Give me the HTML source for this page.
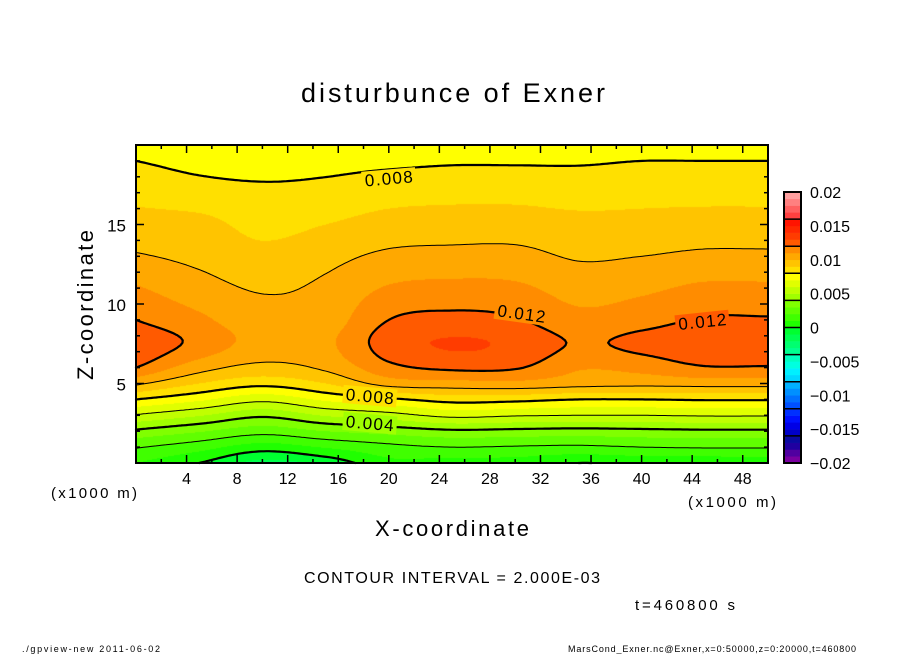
<!DOCTYPE html>
<html><head><meta charset="utf-8"><style>
html,body{margin:0;padding:0;background:#fff}
#wrap{position:relative;width:904px;height:654px;overflow:hidden}
canvas{position:absolute;left:136px;top:145px}
svg{position:absolute;left:0;top:0}
text{font-family:"Liberation Sans",sans-serif;fill:#000}
</style></head><body>
<div id="wrap">
<canvas id="cv" width="632" height="318"></canvas>
<svg id="sv" width="904" height="654">
<text x="453" y="102" font-size="27" text-anchor="middle" textLength="304">disturbunce of Exner</text>
<text transform="translate(93,305) rotate(-90)" font-size="22" text-anchor="middle" textLength="150">Z-coordinate</text>
<text x="452" y="536" font-size="22" text-anchor="middle" textLength="154">X-coordinate</text>
<text x="94" y="498" font-size="15" text-anchor="middle" textLength="86">(x1000 m)</text>
<text x="732" y="507" font-size="15" text-anchor="middle" textLength="88">(x1000 m)</text>
<text x="452" y="583" font-size="16" text-anchor="middle" textLength="296">CONTOUR INTERVAL = 2.000E-03</text>
<text x="685" y="610" font-size="15" text-anchor="middle" textLength="100">t=460800 s</text>
<text x="22" y="652" font-size="9" textLength="138">./gpview-new  2011-06-02</text>
<text x="568" y="652" font-size="9" textLength="288">MarsCond_Exner.nc@Exner,x=0:50000,z=0:20000,t=460800</text>
<g id="contours"></g>
<g id="labels"></g>
<rect x="136" y="145" width="632" height="318" fill="none" stroke="#000" stroke-width="2"/>
<g id="ticks"></g>
<g id="cbar"></g>
</svg>
</div>
<script>
// grid coordinates
const xs = [0,5,10,15,20,25,30,35,40,45,50];
const zs = [0,1,2,3,4,5,6,7.5,9,11,13,15,17,19,20];
// field values per x column (bottom to top)
const col0  = [.0010,.0021,.0038,.0059,.0080,.0102,.0120,.0128,.0120,.0111,.0101,.0094,.0087,.0080,.0076];
const col5  = [.0000,.0014,.0031,.0051,.0072,.0090,.0104,.0117,.0112,.0104,.00975,.0093,.0084,.0077,.0074];
const col10 = [-.0014,.0005,.0024,.0042,.0063,.0083,.0097,.0106,.0104,.0099,.0093,.0087,.0082,.0076,.0073];
const col15 = [-.0007,.0011,.0030,.0051,.0072,.0090,.0102,.0108,.0105,.0102,.0097,.0090,.0083,.0077,.0074];
const col20 = [.0007,.0017,.0034,.0056,.0078,.0104,.0117,.0125,.0120,.0111,.0102,.0094,.0086,.0078,.0075];
const col25 = [.0005,.0020,.0038,.0063,.0084,.0106,.0122,.0131,.0123,.0113,.0103,.0095,.0087,.0079,.0076];
const col30 = [.0005,.0019,.0037,.0061,.0083,.0107,.0121,.0128,.0121,.0112,.0103,.0095,.0087,.0079,.0076];
const col35 = [.0000,.0018,.0036,.0060,.0080,.0104,.0111,.0119,.0113,.0106,.0099,.0093,.0086,.0079,.0076];
const col40 = [.0002,.0020,.0037,.0060,.0080,.0103,.0113,.0123,.0116,.0108,.0100,.0093,.0087,.0080,.0077];
const col45 = [.0002,.0021,.0038,.0061,.0081,.0104,.0119,.0128,.0121,.0112,.0102,.0094,.0087,.0080,.0076];
const col50 = [.0003,.0021,.0038,.0061,.0081,.0104,.0119,.0128,.0121,.0112,.0102,.0094,.0087,.0080,.0077];
const cols = [col0,col5,col10,col15,col20,col25,col30,col35,col40,col45,col50];
const contourLevels = [-0.002,0,0.002,0.004,0.006,0.008,0.010,0.012,0.014];
const xTickLabels = [4,8,12,16,20,24,28,32,36,40,44,48];
const zTickLabels = [5,10,15];
const cbarTickLabels = ["0.02","0.015","0.01","0.005","0","-0.005","-0.01","-0.015","-0.02"];
const cbarTickValues = [0.02,0.015,0.01,0.005,0,-0.005,-0.01,-0.015,-0.02];
const palette = ["#7a00a0","#5000a0","#2000a0","#0a0aa0","#0000c8","#0000e6","#0010ff","#0030ff",
"#0050ff","#0070ff","#0090ff","#00b0ff","#00d8ff","#00f0ff","#00ffe0","#00ffc0",
"#00ff90","#00ff70","#00ff50","#00ff30","#20ff00","#40ff00","#60ff00","#80ff00",
"#a0ff00","#c0ff00","#e0ff00","#ffff00","#ffe000","#ffc400","#ffa800","#ff8c00",
"#ff5a00","#ff3c00","#ff2800","#ff1400","#ff4040","#ff6060","#ff8080","#ffa0a0"];

const PX=136, PY=145, PW=632, PH=318;
const sx = x => PX + x/50*PW;
const sz = z => PY + PH - z/20*PH;
function seg(arr,v){let i=0;while(i<arr.length-2&&v>arr[i+1])i++;return i;}
function tangent(g,f,i){
  const n=g.length;
  if(i===0)return (f[1]-f[0])/(g[1]-g[0]);
  if(i===n-1)return (f[n-1]-f[n-2])/(g[n-1]-g[n-2]);
  return ((f[i]-f[i-1])/(g[i]-g[i-1])+(f[i+1]-f[i])/(g[i+1]-g[i]))/2;
}
function herm(g,f,v){
  const i=seg(g,v);const h=g[i+1]-g[i];const t=(v-g[i])/h;
  const m0=tangent(g,f,i)*h,m1=tangent(g,f,i+1)*h;
  const t2=t*t,t3=t2*t;
  return (2*t3-3*t2+1)*f[i]+(t3-2*t2+t)*m0+(-2*t3+3*t2)*f[i+1]+(t3-t2)*m1;
}
function colorOf(v){let k=Math.floor(v*1000+20+1e-9);k=Math.max(0,Math.min(39,k));return palette[k];}
const NX=252,NZ=127;
const G=[];for(let i=0;i<=NX;i++){G.push([]);}
for(let j=0;j<=NZ;j++){const z=j/NZ*20;const colVals=cols.map(c=>herm(zs,c,z));
  for(let i=0;i<=NX;i++)G[i][j]=herm(xs,colVals,i/NX*50);}
function gval(x,z){const fx=x/50*NX,fz=z/20*NZ;const i=Math.min(NX-1,Math.floor(fx)),j=Math.min(NZ-1,Math.floor(fz));
  const tx=fx-i,tz=fz-j;return (G[i][j]*(1-tx)+G[i+1][j]*tx)*(1-tz)+(G[i][j+1]*(1-tx)+G[i+1][j+1]*tx)*tz;}
const ctx=document.getElementById('cv').getContext('2d');
for(let py=0;py<PH;py++){for(let px=0;px<PW;px++){
  const x=(px+0.5)/PW*50, z=(PH-py-0.5)/PH*20;
  ctx.fillStyle=colorOf(gval(x,z));ctx.fillRect(px,py,1,1);
}}
const NS='http://www.w3.org/2000/svg';
const cg=document.getElementById('contours');
contourLevels.forEach(L=>{
  let d='';
  for(let i=0;i<NX;i++)for(let j=0;j<NZ;j++){
    const c=[[i,j],[i+1,j],[i+1,j+1],[i,j+1]];
    const pts=[];
    for(let e=0;e<4;e++){const p=c[e],q=c[(e+1)%4];const a=G[p[0]][p[1]],b=G[q[0]][q[1]];
      if((a<L)!==(b<L)){const t=(L-a)/(b-a);pts.push([(p[0]+(q[0]-p[0])*t)/NX*50,(p[1]+(q[1]-p[1])*t)/NZ*20]);}}
    for(let k=0;k+1<pts.length;k+=2)d+='M'+sx(pts[k][0]).toFixed(1)+' '+sz(pts[k][1]).toFixed(1)+'L'+sx(pts[k+1][0]).toFixed(1)+' '+sz(pts[k+1][1]).toFixed(1);
  }
  const p=document.createElementNS(NS,'path');
  p.setAttribute('d',d);p.setAttribute('fill','none');p.setAttribute('stroke','#000');
  p.setAttribute('stroke-linecap','round');
  const thick=Math.abs(Math.round(L*1000))%4===0;
  p.setAttribute('stroke-width',thick?2.2:1);
  
  
  cg.appendChild(p);
});
const lblText=["0.008","0.012","0.012","0.008","0.004"];
const lblX=[20,30.5,44.8,18.5,18.5];
const lblZ=[17.9,9.4,8.9,4.2,2.5];
const lblRot=[-5,8,-6,5,5];
const lg=document.getElementById('labels');
lblText.forEach((t,k)=>{
  const g=document.createElementNS(NS,'g');
  g.setAttribute('transform','translate('+sx(lblX[k])+','+sz(lblZ[k])+') rotate('+lblRot[k]+')');
  
  
  const r=document.createElementNS(NS,'rect');
  r.setAttribute('x',-27);r.setAttribute('y',-9);r.setAttribute('width',54);r.setAttribute('height',18);
  r.setAttribute('fill',colorOf(gval(lblX[k],lblZ[k])));
  g.appendChild(r);
  const tx=document.createElementNS(NS,'text');
  tx.setAttribute('x',0);tx.setAttribute('y',6);tx.setAttribute('font-size','17');tx.setAttribute('text-anchor','middle');
  tx.setAttribute('textLength','48');
  tx.textContent=t;g.appendChild(tx);lg.appendChild(g);
});
const tg=document.getElementById('ticks');
function line(x1,y1,x2,y2,w,name){const l=document.createElementNS(NS,'line');
  l.setAttribute('x1',x1);l.setAttribute('y1',y1);l.setAttribute('x2',x2);l.setAttribute('y2',y2);
  l.setAttribute('stroke','#000');l.setAttribute('stroke-width',w||1.5);
  
  
  tg.appendChild(l);}
for(let x=2;x<50;x+=2){const L=(x%4===0)?8:4;line(sx(x),PY,sx(x),PY+L,1.5,'x-tick');line(sx(x),PY+PH,sx(x),PY+PH-L,1.5,'x-tick');}
for(let z=1;z<20;z++){const L=(z%5===0)?8:4;line(PX,sz(z),PX+L,sz(z),1.5,'z-tick');line(PX+PW,sz(z),PX+PW-L,sz(z),1.5,'z-tick');}
function txt(x,y,s,size,anchor,name,parent){const t=document.createElementNS(NS,'text');
  t.setAttribute('x',x);t.setAttribute('y',y);t.setAttribute('font-size',size);t.setAttribute('text-anchor',anchor);
  t.textContent=s;
  
  
  (parent||tg).appendChild(t);}
xTickLabels.forEach(v=>txt(sx(v),484,String(v),16,'middle','x-tick-label'));
zTickLabels.forEach(v=>txt(126,sz(v)+7,String(v),17,'end','z-tick-label'));
const cb=document.getElementById('cbar');
const CX=784,CW=17,CT=192,CB=463;
const cy=v=>CB-(v+0.02)/0.04*(CB-CT);
palette.forEach((c,k)=>{const v0=-0.02+k*0.001;const r=document.createElementNS(NS,'rect');
  r.setAttribute('x',CX);r.setAttribute('y',cy(v0+0.001));r.setAttribute('width',CW);r.setAttribute('height',cy(v0)-cy(v0+0.001)+0.3);
  r.setAttribute('fill',c);
  
  
  cb.appendChild(r);});
for(let v=-0.016;v<0.0195;v+=0.004){const l=document.createElementNS(NS,'line');
  l.setAttribute('x1',CX);l.setAttribute('x2',CX+CW);l.setAttribute('y1',cy(v));l.setAttribute('y2',cy(v));
  l.setAttribute('stroke','#000');l.setAttribute('stroke-width',1.5);
  
  
  cb.appendChild(l);}
const fr=document.createElementNS(NS,'rect');
fr.setAttribute('x',CX);fr.setAttribute('y',CT);fr.setAttribute('width',CW);fr.setAttribute('height',CB-CT);
fr.setAttribute('fill','none');fr.setAttribute('stroke','#000');fr.setAttribute('stroke-width',2);


cb.appendChild(fr);
cbarTickLabels.forEach((s,k)=>txt(810,cy(cbarTickValues[k])+6,s.replace('-','\u2212'),16,'start','colorbar-label',cb));
</script>
</body></html>
